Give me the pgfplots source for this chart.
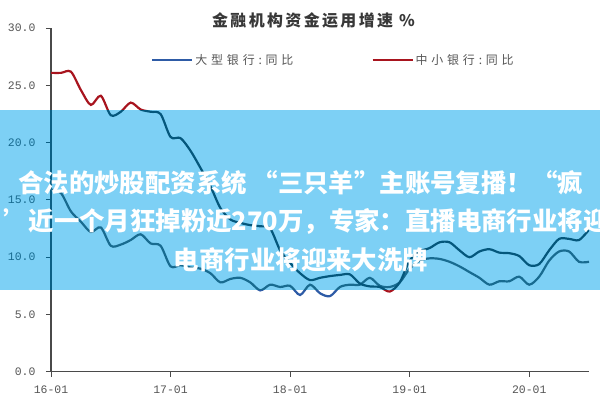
\documentclass[border=0pt]{standalone}
\usepackage{pgfplots}
\pgfplotsset{compat=1.18}
\usepackage{fontspec}
\setmainfont{Liberation Sans}
\newfontfamily\cjk{Noto Sans CJK SC}
\newfontfamily\cjktitle[LetterSpace=15]{Noto Sans CJK SC}
\newfontfamily\cjkleg[LetterSpace=32]{Noto Sans CJK SC}
\newfontfamily\mono{Liberation Mono}

\definecolor{bigbank}{HTML}{2E5BA6}
\definecolor{smallbank}{HTML}{A8141E}
\definecolor{banner}{HTML}{7DD0F5}
\definecolor{axgray}{HTML}{4A4A4A}
\definecolor{txtgray}{HTML}{555555}

% month index: 0 = 2016-01
\pgfplotstableread{
m  v
0  15.9
1  15.6
2  14.0
3  13.1
4  12.2
5  12.6
6  11.0
7  11.1
8  11.5
9  12.0
10 11.2
11 11.0
12 9.2
13 9.3
14 9.1
15 9.0
16 8.6
17 7.8
18 8.1
19 8.2
20 7.8
21 7.1
22 7.6
23 7.4
24 7.5
25 6.7
26 7.6
27 6.85
28 6.6
29 7.4
30 7.6
31 7.6
32 8.2
33 7.5
34 7.4
35 7.8
36 9.0
37 9.7
38 9.9
39 9.85
40 9.6
41 9.2
42 8.7
43 8.2
44 7.6
45 7.9
46 7.9
47 8.3
48 7.6
49 8.3
50 9.7
51 10.5
52 10.5
53 9.6
54 9.6
}\large

\pgfplotstableread{
m  v
0  26.1
1  26.1
2  26.2
3  24.6
4  23.3
5  24.1
6  22.4
7  22.7
8  23.5
9  22.9
10 22.7
11 22.5
12 20.5
13 20.4
14 19.3
15 17.8
16 16.2
17 14.3
18 13.3
19 13.0
20 12.8
21 12.7
22 12.5
23 10.6
24 9.5
25 8.6
26 8.0
27 8.2
28 8.35
29 8.45
30 8.5
31 7.7
32 7.45
33 7.4
34 7.0
35 7.8
36 9.7
37 10.5
38 10.8
39 11.3
40 11.3
41 10.6
42 10.0
43 10.5
44 10.7
45 10.4
46 10.35
47 10.1
48 9.3
49 9.4
50 10.6
51 11.6
52 11.6
53 11.5
54 12.4
}\small

\begin{document}
\begin{tikzpicture}[x=1bp,y=1bp]
\useasboundingbox (0,0) rectangle (600,400);
\fill[white] (0,0) rectangle (600,400);
\fill[banner] (0,110) rectangle (600,290);

\begin{axis}[
  at={(51bp,28.3bp)}, anchor=south west,
  scale only axis, width=538bp, height=343.5bp,
  xmin=0, xmax=54, ymin=0, ymax=30,
  axis lines=left,
  axis line style={-, draw=axgray, line width=1.1pt},
  tick align=outside,
  major tick length=5bp,
  tick style={draw=axgray, line width=1pt},
  xtick={0,12,24,36,48},
  xticklabels={16-01,17-01,18-01,19-01,20-01},
  ytick={0,5,10,15,20,25,30},
  tick label style={font=\mono\fontsize{11.5}{13}\selectfont, text=txtgray},
  xticklabel style={yshift=-6bp},
  yticklabel style={xshift=-7bp, /pgf/number format/.cd, fixed, fixed zerofill, precision=1, assume math mode=true},
  legend style={at={(0.525,0.907)}, anchor=center, draw=none, fill=none,
    font=\cjkleg\fontsize{12}{14}\selectfont, text=txtgray,
    /tikz/every even column/.append style={column sep=76bp}},
  legend columns=2,
  legend image code/.code={\draw[#1] (0bp,0bp) -- (40bp,0bp);},
  every axis plot/.append style={line width=2.2pt, no marks, smooth},
]
\addplot[bigbank] table[x=m, y=v] {\large};
\addlegendentry{大型银行:同比}
\addplot[smallbank] table[x=m, y=v] {\small};
\addlegendentry{中小银行:同比}
\end{axis}

\fill[banner, blend mode=color] (0,110) rectangle (600,290);

\node[text=black!78, inner sep=0pt, font=\cjktitle\bfseries\fontsize{16}{18}\selectfont]
  at (313.5,380) {金融机构资金运用增速 \%};

\begin{scope}[every node/.style={text=white, inner sep=0pt, font=\cjk\bfseries\fontsize{25.5}{30}\selectfont}]
\node[anchor=west] at (18,217) {合法的炒股配资系统 “三只羊”主账号复播！“疯};
\node[anchor=west] at (3,179) {’近一个月狂掉粉近270万，专家：直播电商行业将迎};
\node at (301,140) {电商行业将迎来大洗牌};
\end{scope}
\end{tikzpicture}
\end{document}
